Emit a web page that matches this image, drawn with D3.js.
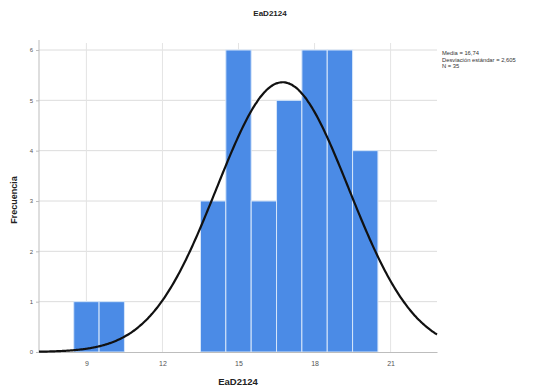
<!DOCTYPE html>
<html><head><meta charset="utf-8">
<script src="https://cdn.jsdelivr.net/npm/d3@7"></script>
<style>body{margin:0;background:#fff}</style>
</head><body>
<svg id="c" width="539" height="391"></svg>
<script>
const binCenters = [9, 10, 14, 15, 16, 17, 18, 19, 20];
const frequencies = [1, 1, 3, 6, 3, 5, 6, 6, 4];
const xTicks = [9, 12, 15, 18, 21];
const yTicks = [0, 1, 2, 3, 4, 5, 6];
const meanVal = 16.74, sdVal = 2.605, nVal = 35;
const legendLines = ["Media = 16,74", "Desviación estándar = 2,605", "N = 35"];
const title = "EaD2124", xTitle = "EaD2124", yTitle = "Frecuencia";

const svg = d3.select("#c");
const x = d3.scaleLinear().domain([7.13, 22.83]).range([39, 437]);
const y = d3.scaleLinear().domain([0, 6]).range([352, 50]);
const font = "Arial, 'Liberation Sans', sans-serif";

// gridlines
svg.append("g").selectAll("line").data(yTicks.filter(d=>d>0)).join("line")
  .attr("x1", 39).attr("x2", 437).attr("y1", d=>y(d)).attr("y2", d=>y(d))
  .attr("stroke", "#dcdcdc").attr("stroke-width", 1);
svg.append("g").selectAll("line").data(xTicks).join("line")
  .attr("x1", d=>x(d)).attr("x2", d=>x(d)).attr("y1", 43).attr("y2", 352)
  .attr("stroke", "#e4e4e4").attr("stroke-width", 1);

// bars
svg.append("g").selectAll("rect").data(binCenters).join("rect")
  .attr("x", d=>x(d-0.5)).attr("width", d=>x(d+0.5)-x(d-0.5))
  .attr("y", (d,i)=>y(frequencies[i])).attr("height", (d,i)=>y(0)-y(frequencies[i]))
  .attr("fill", "#4b8be6").attr("stroke", "#d6e6fa").attr("stroke-width", 1);

// axes
const xa = svg.append("g").attr("transform", "translate(0,352)")
  .call(d3.axisBottom(x).tickValues(xTicks).tickSize(0).tickPadding(9).tickFormat(d3.format("d")));
xa.select(".domain").attr("stroke", "#bdbdbd");
xa.selectAll("text").attr("font-family", font).attr("font-size", 7).attr("fill", "#555");
const ya = svg.append("g").attr("transform", "translate(39,0)")
  .call(d3.axisLeft(y).tickValues(yTicks).tickSize(3).tickPadding(3).tickFormat(d3.format("d")));
ya.select(".domain").attr("stroke", "#bdbdbd").attr("d", "M0,40V352");
ya.selectAll("line").attr("stroke", "#bdbdbd");
ya.selectAll("text").attr("font-family", font).attr("font-size", 6).attr("fill", "#555");

// normal curve
const pts = d3.range(7.13, 22.84, 0.05).map(v => [v,
  nVal * 1 / (sdVal * Math.sqrt(2*Math.PI)) * Math.exp(-0.5*Math.pow((v-meanVal)/sdVal,2))]);
svg.append("path").datum(pts)
  .attr("d", d3.line().x(d=>x(d[0])).y(d=>y(d[1])).curve(d3.curveBasis))
  .attr("fill", "none").attr("stroke", "#111").attr("stroke-width", 2.2);

// titles
svg.append("text").attr("x", 270).attr("y", 16).attr("text-anchor", "middle")
  .attr("font-family", font).attr("font-size", 8).attr("font-weight", "bold").attr("fill", "#222").text(title);
svg.append("text").attr("x", 238).attr("y", 385).attr("text-anchor", "middle")
  .attr("font-family", font).attr("font-size", 9.5).attr("font-weight", "bold").attr("fill", "#222").text(xTitle);
svg.append("text").attr("transform", "translate(17,200) rotate(-90)").attr("text-anchor", "middle")
  .attr("font-family", font).attr("font-size", 9).attr("font-weight", "bold").attr("fill", "#222").text(yTitle);

// legend
svg.append("g").selectAll("text").data(legendLines).join("text")
  .attr("x", 442).attr("y", (d,i)=>55 + i*6.5)
  .attr("font-family", font).attr("font-size", 5.8).attr("fill", "#333").text(d=>d);
</script>
</body></html>
